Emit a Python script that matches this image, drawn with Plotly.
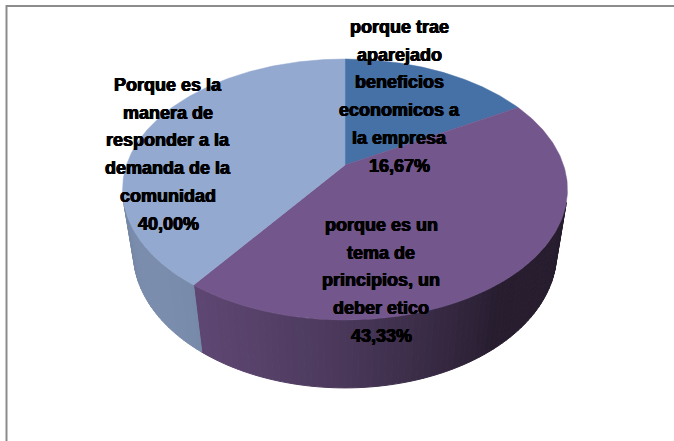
import numpy as np
import plotly.graph_objects as go

# Survey answers and their shares (%)
categories = [
    "porque trae aparejado beneficios economicos a la empresa",
    "porque es un tema de principios, un deber etico",
    "Porque es la manera de responder a la demanda de la comunidad",
]
shares = [16.67, 43.33, 40.00]
label_lines = [
    ["porque trae", "aparejado", "beneficios", "economicos a", "la empresa"],
    ["porque es un", "tema de", "principios, un", "deber etico"],
    ["Porque es la", "manera de", "responder a la", "demanda de la", "comunidad"],
]
top_colors = ["#4671A6", "#73578C", "#93A9CF"]

# Camera for the 3D pie (pixel space of the page)
W, H = 674, 441
CX, CY = 345.0, 165.0          # projected pie centre
PHI = np.radians(35.18)         # elevation of the view
DIST = 4.354                    # camera distance in pie radii
FOC = 951.4                     # focal length in px
DEPTH = 0.37                    # pie thickness in pie radii
LIGHT = np.array([-0.8, 0.6])   # light from front-left (x, z)

# label anchors: centre x and first line y, line spacing
label_pos = [(399, 27), (381, 225), (168, 85)]
LINE_STEP = 27.7


def project(X, Y, Z):
    d = DIST - Y * np.sin(PHI) - Z * np.cos(PHI)
    sx = CX + FOC * X / d
    sy = CY - FOC * (Y * np.cos(PHI) - Z * np.sin(PHI)) / d
    return sx, sy


def hex_rgb(h):
    h = h.lstrip("#")
    return np.array([int(h[i:i + 2], 16) for i in (0, 2, 4)], dtype=float)


def shade(h, f):
    r, g, b = np.clip(hex_rgb(h) * f, 0, 255).astype(int)
    return f"rgb({r},{g},{b})"


fig = go.Figure()

total = sum(shares)
bounds = np.concatenate([[0.0], np.cumsum(shares) / total * 360.0])

# side wall: only the part turned towards the camera
vis_lo = np.degrees(np.arccos(-1.0 / (DIST * np.cos(PHI))))
vis_hi = 360.0 - vis_lo
for i, col in enumerate(top_colors):
    a0, a1 = max(bounds[i], vis_lo), min(bounds[i + 1], vis_hi)
    if a1 <= a0:
        continue
    n = max(2, int((a1 - a0) / 1.5))
    edges = np.linspace(a0, a1, n + 1)
    for t0, t1 in zip(edges[:-1], edges[1:]):
        tt = np.radians([t0, t1])
        X, Z = np.sin(tt), -np.cos(tt)
        xt, yt = project(X, 0.0, Z)
        xb, yb = project(X, -DEPTH, Z)
        tm = np.radians((t0 + t1) / 2)
        lam = max(0.0, np.sin(tm) * LIGHT[0] - np.cos(tm) * LIGHT[1])
        c = shade(col, 0.34 + 0.5 * lam)
        fig.add_trace(go.Scatter(
            x=[xt[0], xt[1], xb[1], xb[0], xt[0]],
            y=[yt[0], yt[1], yb[1], yb[0], yt[0]],
            mode="lines", fill="toself", fillcolor=c,
            line=dict(color=c, width=1), hoverinfo="skip", showlegend=False))

# top faces
for i, col in enumerate(top_colors):
    tt = np.radians(np.linspace(bounds[i], bounds[i + 1], 200))
    xs, ys = project(np.sin(tt), 0.0, -np.cos(tt))
    x0, y0 = project(0.0, 0.0, 0.0)
    fig.add_trace(go.Scatter(
        x=np.concatenate([[x0], xs, [x0]]),
        y=np.concatenate([[y0], ys, [y0]]),
        mode="lines", fill="toself", fillcolor=col,
        line=dict(color=col, width=0.5), hoverinfo="skip",
        name=categories[i], showlegend=False))

# data labels: category text followed by the share
annotations = []
for lines, v, (lx, ly) in zip(label_lines, shares, label_pos):
    rows = lines + [f"{v:.2f}".replace(".", ",") + "%"]
    for j, row in enumerate(rows):
        annotations.append(dict(
            x=lx, y=ly + j * LINE_STEP, xref="x", yref="y",
            text=f"<b>{row}</b>", showarrow=False,
            xanchor="center", yanchor="middle",
            font=dict(family="Liberation Sans, Arial, sans-serif",
                      size=18, color="#000000",
                      shadow="0.45px 0 0 #000, -0.45px 0 0 #000, 0 0.3px 0 #000")))

# chart frame (top and left edges)
frame = dict(color="#8C8C8C", width=2)
shapes = [
    dict(type="line", xref="x", yref="y", x0=6, y0=6, x1=W, y1=6, line=frame),
    dict(type="line", xref="x", yref="y", x0=6.5, y0=5, x1=6.5, y1=H, line=frame),
]

fig.update_layout(
    width=W, height=H,
    margin=dict(l=0, r=0, t=0, b=0),
    paper_bgcolor="#FFFFFF", plot_bgcolor="#FFFFFF",
    xaxis=dict(range=[0, W], visible=False, fixedrange=True),
    yaxis=dict(range=[H, 0], visible=False, fixedrange=True),
    annotations=annotations, shapes=shapes,
    showlegend=False,
)

fig.write_html("out.html")
